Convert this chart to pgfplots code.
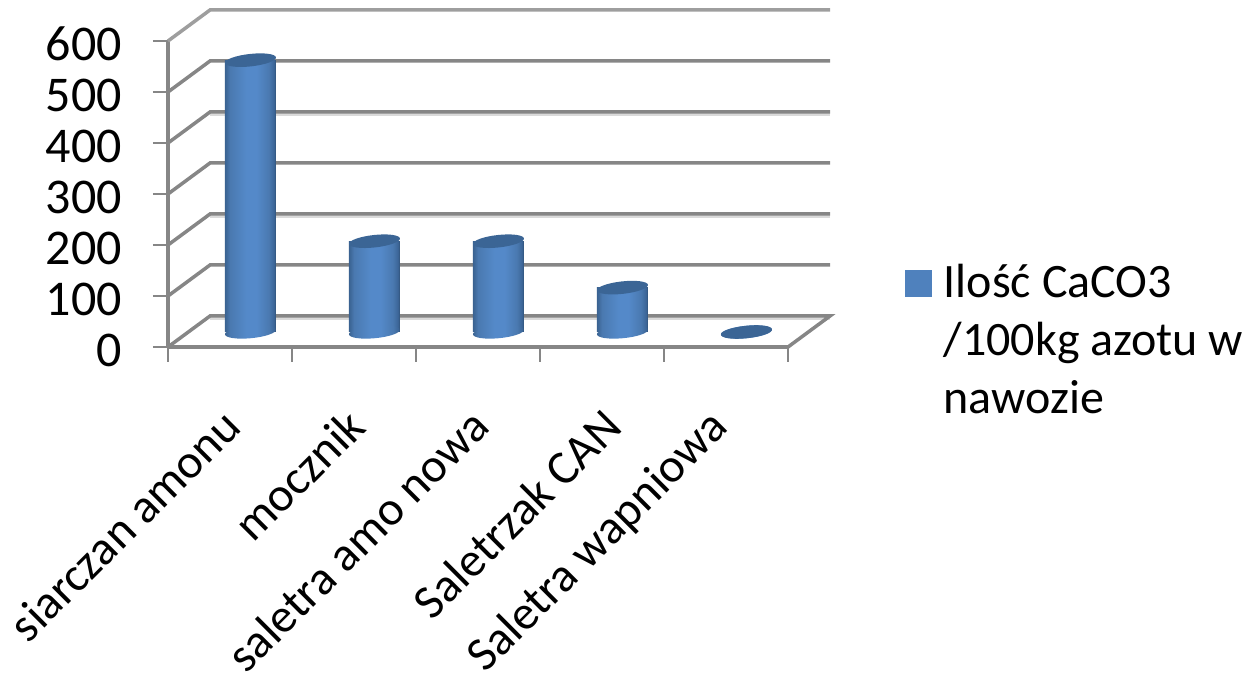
\documentclass[border=0pt]{standalone}
\usepackage{pgfplots}
\pgfplotsset{compat=1.18}
\usepackage{pgfplotstable}
\usepackage{fontspec}
\setmainfont{Carlito}
\definecolor{gridgray}{HTML}{868686}
\definecolor{gridshade}{HTML}{DADADA}
\definecolor{sidewall}{HTML}{4F81BD}
\definecolor{capblue}{HTML}{3B6595}
\definecolor{cylA}{HTML}{3A6291}
\definecolor{cylB}{HTML}{4A79B0}
\definecolor{cylC}{HTML}{5489C9}
\definecolor{cylD}{HTML}{3C6698}
\definecolor{cylE}{HTML}{2F4F74}

% Horizontal gradient giving the bars their rounded look
\pgfdeclarehorizontalshading{cylinder side}{100bp}{
  color(0bp)=(cylA);
  color(25bp)=(cylA);
  color(30bp)=(cylB);
  color(46bp)=(cylC);
  color(56bp)=(cylC);
  color(68bp)=(cylB);
  color(73bp)=(cylD);
  color(75bp)=(cylE);
  color(100bp)=(cylE)}

% Slanted ellipses for the two ends of a cylinder
\pgfdeclareplotmark{cylinder top}{%
  \pgfpathellipse{\pgfpointorigin}{\pgfqpoint{25.5pt}{2.8pt}}{\pgfqpoint{-0.7pt}{6.2pt}}%
  \pgfusepathqfill}
\pgfdeclareplotmark{cylinder base}{%
  \pgfpathellipse{\pgfpointorigin}{\pgfqpoint{25.5pt}{2.4pt}}{\pgfqpoint{-0.6pt}{6.2pt}}%
  \pgfshadepath{cylinder side}{0}%
  \pgfusepath{discard}}

\pgfplotstableread{
x     v
0.665 533
1.665 178
2.665 178
3.665 87
4.665 0
}\caco

\begin{document}
\begin{tikzpicture}
\path[use as bounding box] (0pt,0pt) rectangle (1247pt,676pt);
\begin{axis}[
  at={(168pt,329pt)}, anchor=south west,
  scale only axis, width=620pt, height=306pt,
  xmin=0, xmax=5, ymin=0, ymax=600, clip=false,
  axis x line*=bottom, axis y line*=left,
  axis line style={gridgray, line width=3.5pt, -},
  every tick/.style={gridgray, line width=2.5pt},
  tick align=outside,
  major tick length=15pt, minor tick length=15pt,
  ytick={0,100,...,600},
  /pgf/number format/assume math mode=true,
  y tick label style={font=\fontsize{50}{56}\selectfont, inner sep=0pt, xshift=-31pt, yshift=-3pt},
  xtick={0.5,1.5,2.5,3.57,4.42},
  minor xtick={0,1,2,3,4,5},
  x tick style={draw=none},
  minor x tick style={draw=gridgray, line width=2.5pt},
  xticklabels={siarczan amonu, mocznik, saletra amo nowa, Saletrzak CAN, Saletra wapniowa},
  x tick label style={font=\fontsize{48}{54}\selectfont, rotate=45, anchor=north east, inner sep=0pt, xshift=-38pt, yshift=-24pt},
  legend style={at={(1.188,0.27)}, anchor=north west, draw=none, fill=none,
    font=\fontsize{48}{58}\selectfont, inner sep=0pt,
    nodes={align=left, inner sep=0pt}, column sep=12pt},
  legend cell align=left,
]
% Back wall and floor: each grid value runs along the side wall, then across the back
\addplot[forget plot, gridshade, line width=3pt, yshift=-3pt] coordinates {(0.339,60.8) (5.339,60.8)};
\addplot[forget plot, gridshade, line width=3pt, yshift=-3pt] coordinates {(0.339,260.8) (5.339,260.8)};
\addplot[forget plot, gridshade, line width=3pt, yshift=-3pt] coordinates {(0.339,460.8) (5.339,460.8)};
\addplot[forget plot, gridgray, line width=3.5pt] coordinates {(0,0) (0.339,60.8) (5.339,60.8) (5,0)};
\addplot[forget plot, gridgray, line width=3.5pt] coordinates {(0,100) (0.339,160.8) (5.339,160.8)};
\addplot[forget plot, gridgray, line width=3.5pt] coordinates {(0,200) (0.339,260.8) (5.339,260.8)};
\addplot[forget plot, gridgray, line width=3.5pt] coordinates {(0,300) (0.339,360.8) (5.339,360.8)};
\addplot[forget plot, gridgray, line width=3.5pt] coordinates {(0,400) (0.339,460.8) (5.339,460.8)};
\addplot[forget plot, gridgray, line width=3.5pt] coordinates {(0,500) (0.339,560.8) (5.339,560.8)};
\addplot[forget plot, black!38, line width=3.5pt] coordinates {(0,600) (0.339,660.8) (5.339,660.8)};
% Legend key
\addlegendimage{legend image code/.code={\fill[sidewall,draw=none] (-14pt,43pt) rectangle (13pt,70pt);}}
\addlegendentry{Ilość CaCO3\\/100kg azotu w\\nawozie}
% Cylinders: lower end, body, upper end. Each body is its own plot so that it is shaded on its own.
\addplot[forget plot, only marks, mark=cylinder base, yshift=15pt] table[x=x, y expr=0] {\caco};
\addplot[forget plot, ybar, bar width=51pt, draw=none, shading=cylinder side, yshift=15pt] coordinates {(0.665,533)};
\addplot[forget plot, ybar, bar width=51pt, draw=none, shading=cylinder side, yshift=15pt] coordinates {(1.665,178)};
\addplot[forget plot, ybar, bar width=51pt, draw=none, shading=cylinder side, yshift=15pt] coordinates {(2.665,178)};
\addplot[forget plot, ybar, bar width=51pt, draw=none, shading=cylinder side, yshift=15pt] coordinates {(3.665,87)};
\addplot[forget plot, only marks, mark=cylinder top, color=capblue, yshift=15pt] table[x=x, y=v] {\caco};
\end{axis}
\end{tikzpicture}
\end{document}
